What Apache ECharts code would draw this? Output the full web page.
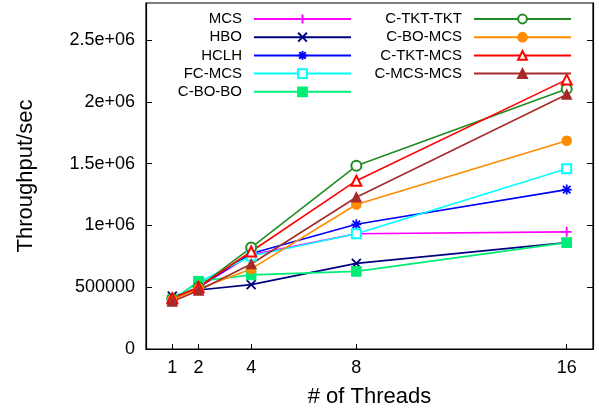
<!DOCTYPE html>
<html><head><meta charset="utf-8">
<script src="https://cdn.jsdelivr.net/npm/echarts@6/dist/echarts.min.js"></script>
<style>html,body{margin:0;padding:0;background:#fff}#c{width:599px;height:408px}</style>
</head><body><div id="c"></div>
<script>
var threads = [1, 2, 4, 8, 16];
var xTickLabels = ['1', '2', '4', '8', '16'];
var yTicks = [0, 500000, 1000000, 1500000, 2000000, 2500000];
var yTickLabels = ['0', '500000', '1e+06', '1.5e+06', '2e+06', '2.5e+06'];

var MCS       = [405000, 500000, 762000, 933000, 948000];
var HBO       = [428000, 478000, 521000, 693000, 861000];
var HCLH      = [405000, 500000, 773000, 1009000, 1290000];
var FC_MCS    = [400000, 540000, 752000, 933000, 1458000];
var C_BO_BO   = [395000, 548000, 600000, 628000, 861000];
var C_TKT_TKT = [405000, 500000, 821000, 1482000, 2105000];
var C_BO_MCS  = [400000, 488000, 648000, 1169000, 1685000];
var C_TKT_MCS = [410000, 500000, 789000, 1362000, 2180000];
var C_MCS_MCS = [385000, 474000, 688000, 1228000, 2060000];

var names = ['MCS','HBO','HCLH','FC-MCS','C-BO-BO','C-TKT-TKT','C-BO-MCS','C-TKT-MCS','C-MCS-MCS'];
var values = [MCS, HBO, HCLH, FC_MCS, C_BO_BO, C_TKT_TKT, C_BO_MCS, C_TKT_MCS, C_MCS_MCS];
var colors = ['#ff00ff','#000080','#0000ff','#00ffff','#00ee77','#228b22','#ff8c00','#ff0000','#a52a2a'];
var symbols = [
  'path://M0,-1L0,1M-1,0L1,0',
  'path://M-1,-1L1,1M-1,1L1,-1',
  'path://M0,-1L0,1M-1,0L1,0M-0.75,-0.75L0.75,0.75M-0.75,0.75L0.75,-0.75',
  'emptyRect', 'rect', 'emptyCircle', 'circle', 'emptyTriangle', 'triangle'];
var sizes = [10, 9, 10, 9, 9, 10, 9, 10, 9];
var strokeSym = [true, true, true, false, false, false, false, false, false];

var series = names.map(function (n, i) {
  return {
    name: n, type: 'line',
    data: threads.map(function (t, j) { return [t, values[i][j]]; }),
    symbol: symbols[i], symbolSize: sizes[i],
    showAllSymbol: true,
    lineStyle: { color: colors[i], width: 1.6 },
    itemStyle: strokeSym[i] ? { color: colors[i], borderColor: colors[i], borderWidth: 1.8 }
                            : { color: colors[i], borderColor: colors[i], borderWidth: 1.6 },
    emphasis: { disabled: true },
    animation: false
  };
});

function fmtY(v) {
  var k = yTicks.indexOf(v);
  return k >= 0 ? yTickLabels[k] : '';
}
function fmtX(v) {
  var k = threads.indexOf(v);
  return k >= 0 ? xTickLabels[k] : '';
}

var font = 'Liberation Sans, Arial, sans-serif';
var legendCommon = {
  orient: 'vertical', align: 'right', top: 11.5, itemWidth: 97, itemHeight: 11, itemGap: 3.2,
  padding: 0, textStyle: { fontFamily: font, fontSize: 15, color: '#000', padding: [0, 7, 0, 0] },
  selectedMode: false
};

var chart = echarts.init(document.getElementById('c'), null, { renderer: 'canvas' });
chart.setOption({
  animation: false,
  backgroundColor: '#fff',
  textStyle: { fontFamily: font },
  grid: { left: 146, right: 6, top: 3, bottom: 59, outerBoundsMode: 'none', containLabel: false,
          show: true, borderColor: '#000', borderWidth: 1.2, backgroundColor: 'transparent' },
  legend: [
    Object.assign({}, legendCommon, { right: 247, data: names.slice(0, 5) }),
    Object.assign({}, legendCommon, { right: 27, data: names.slice(5) })
  ],
  xAxis: {
    type: 'value', min: 0, max: 17,
    name: '# of Threads', nameLocation: 'middle', nameGap: 37,
    nameTextStyle: { fontFamily: font, fontSize: 22, color: '#000' },
    axisLine: { show: true, onZero: false, lineStyle: { color: '#000', width: 1.2 } },
    axisTick: { show: true, inside: true, length: 5, customValues: threads, lineStyle: { color: '#000' } },
    axisLabel: { customValues: threads, formatter: fmtX, margin: 10, fontFamily: font, fontSize: 18, color: '#000' },
    splitLine: { show: false }
  },
  yAxis: [{
    type: 'value', min: 0, max: 2800000, interval: 500000,
    name: 'Throughput/sec', nameLocation: 'middle', nameGap: 109, nameRotate: 90,
    nameTextStyle: { fontFamily: font, fontSize: 22, color: '#000' },
    axisLine: { show: true, lineStyle: { color: '#000', width: 1.2 } },
    axisTick: { show: true, inside: true, length: 6, customValues: yTicks, lineStyle: { color: '#000' } },
    axisLabel: { customValues: yTicks, formatter: fmtY, margin: 11, fontFamily: font, fontSize: 18, color: '#000' },
    splitLine: { show: false }
  }, {
    type: 'value', min: 0, max: 2800000, interval: 500000, position: 'right',
    axisLine: { show: true, lineStyle: { color: '#000', width: 1.2 } },
    axisTick: { show: true, inside: true, length: 6, customValues: yTicks, lineStyle: { color: '#000' } },
    axisLabel: { show: false },
    splitLine: { show: false }
  }],
  series: series
});
</script></body></html>
